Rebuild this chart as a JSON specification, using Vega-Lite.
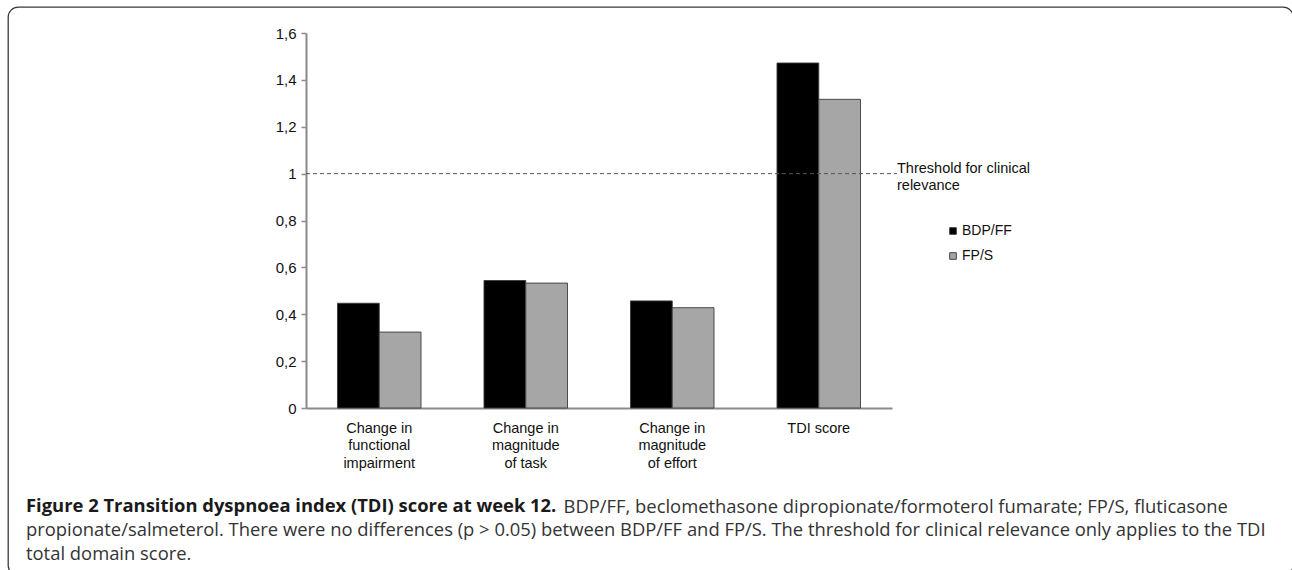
{
  "$schema": "https://vega.github.io/schema/vega-lite/v6.json",
  "width": 1285,
  "height": 568,
  "autosize": {"type": "none"},
  "padding": {"left": 8, "top": 7, "right": 0, "bottom": 0},
  "background": "white",
  "config": {
    "view": {"stroke": "#3a3a3a", "strokeWidth": 1.3, "cornerRadius": 10},
    "font": "Liberation Sans"
  },
  "title": {
    "text": "Figure 2 Transition dyspnoea index (TDI) score at week 12.",
    "subtitle": [
      "propionate/salmeterol. There were no differences (p > 0.05) between BDP/FF and FP/S. The threshold for clinical relevance only applies to the TDI",
      "total domain score."
    ],
    "orient": "bottom",
    "anchor": "start",
    "frame": "group",
    "offset": -78,
    "dx": 18,
    "baseline": "top",
    "font": "Open Sans",
    "fontSize": 18.4,
    "fontWeight": "bold",
    "color": "#1a1a1a",
    "subtitleFont": "Open Sans",
    "subtitleFontSize": 18.4,
    "subtitleFontWeight": "normal",
    "subtitleColor": "#333333",
    "subtitleLineHeight": 23.5,
    "subtitlePadding": 6
  },
  "layer": [
    {
      "data": {
        "values": [
          {"measure": "Change in functional impairment", "treatment": "BDP/FF", "score": 0.447},
          {"measure": "Change in functional impairment", "treatment": "FP/S", "score": 0.324},
          {"measure": "Change in magnitude of task", "treatment": "BDP/FF", "score": 0.544},
          {"measure": "Change in magnitude of task", "treatment": "FP/S", "score": 0.533},
          {"measure": "Change in magnitude of effort", "treatment": "BDP/FF", "score": 0.457},
          {"measure": "Change in magnitude of effort", "treatment": "FP/S", "score": 0.428},
          {"measure": "TDI score", "treatment": "BDP/FF", "score": 1.472},
          {"measure": "TDI score", "treatment": "FP/S", "score": 1.317}
        ]
      },
      "mark": {"type": "bar", "stroke": "#3c3c3c", "strokeWidth": 0.9},
      "encoding": {
        "x": {
          "field": "measure",
          "type": "nominal",
          "sort": null,
          "scale": {"range": [298, 884], "paddingInner": 0.43, "paddingOuter": 0.215},
          "axis": {
            "orient": "bottom",
            "offset": -167,
            "ticks": false,
            "labelAngle": 0,
            "labelPadding": 13,
            "labelBaseline": "top",
            "labelLineHeight": 17.5,
            "labelFont": "Liberation Sans",
            "labelFontSize": 14.5,
            "labelColor": "#111111",
            "labelExpr": "datum.value == 'Change in functional impairment' ? ['Change in', 'functional', 'impairment'] : datum.value == 'Change in magnitude of task' ? ['Change in', 'magnitude', 'of task'] : datum.value == 'Change in magnitude of effort' ? ['Change in', 'magnitude', 'of effort'] : datum.label",
            "domainColor": "#8a8a8a",
            "domainWidth": 2,
            "title": "BDP/FF, beclomethasone dipropionate/formoterol fumarate; FP/S, fluticasone",
            "titleX": 555,
            "titleY": 89,
            "titleAlign": "left",
            "titleBaseline": "top",
            "titleFont": "Open Sans",
            "titleFontSize": 18.4,
            "titleFontWeight": "normal",
            "titleColor": "#333333"
          }
        },
        "xOffset": {"field": "treatment", "sort": ["BDP/FF", "FP/S"]},
        "y": {
          "field": "score",
          "type": "quantitative",
          "scale": {"domain": [0, 1.6], "range": [401, 26], "nice": false},
          "axis": {
            "orient": "left",
            "offset": -298,
            "values": [0, 0.2, 0.4, 0.6, 0.8, 1, 1.2, 1.4, 1.6],
            "labelExpr": "replace(format(datum.value, '.1~f'), '.', ',')",
            "grid": false,
            "title": null,
            "domainColor": "#8a8a8a",
            "domainWidth": 2,
            "tickColor": "#8a8a8a",
            "tickSize": 5,
            "tickWidth": 1.5,
            "labelFont": "Liberation Sans",
            "labelFontSize": 15,
            "labelColor": "#111111",
            "labelPadding": 5
          }
        },
        "color": {
          "field": "treatment",
          "type": "nominal",
          "scale": {"domain": ["BDP/FF", "FP/S"], "range": ["#000000", "#a6a6a6"]},
          "legend": {
            "orient": "none",
            "legendX": 938,
            "legendY": 217,
            "title": null,
            "symbolType": "square",
            "symbolSize": 44,
            "symbolStrokeColor": "#333333",
            "symbolStrokeWidth": 0.9,
            "labelFont": "Liberation Sans",
            "labelFontSize": 14,
            "labelColor": "#111111",
            "labelOffset": 2,
            "rowPadding": 11
          }
        }
      }
    },
    {
      "data": {"values": [{"threshold": 1, "label": "Threshold for clinical\nrelevance"}]},
      "layer": [
        {
          "mark": {"type": "rule", "strokeDash": [4, 3], "color": "#555555", "strokeWidth": 1},
          "encoding": {
            "y": {"field": "threshold", "type": "quantitative"},
            "x": {"datum": 0, "type": "quantitative", "scale": {"domain": [0, 1], "range": [298, 889]}, "axis": null},
            "x2": {"datum": 1}
          }
        },
        {
          "mark": {"type": "text", "align": "left", "baseline": "middle", "dy": -5, "lineBreak": "\n", "font": "Liberation Sans", "fontSize": 14.5, "lineHeight": 17.4, "color": "#111111"},
          "encoding": {
            "y": {"field": "threshold", "type": "quantitative"},
            "x": {"datum": 1, "type": "quantitative"},
            "text": {"field": "label"}
          }
        }
      ]
    }
  ],
  "resolve": {"scale": {"x": "independent"}}
}
